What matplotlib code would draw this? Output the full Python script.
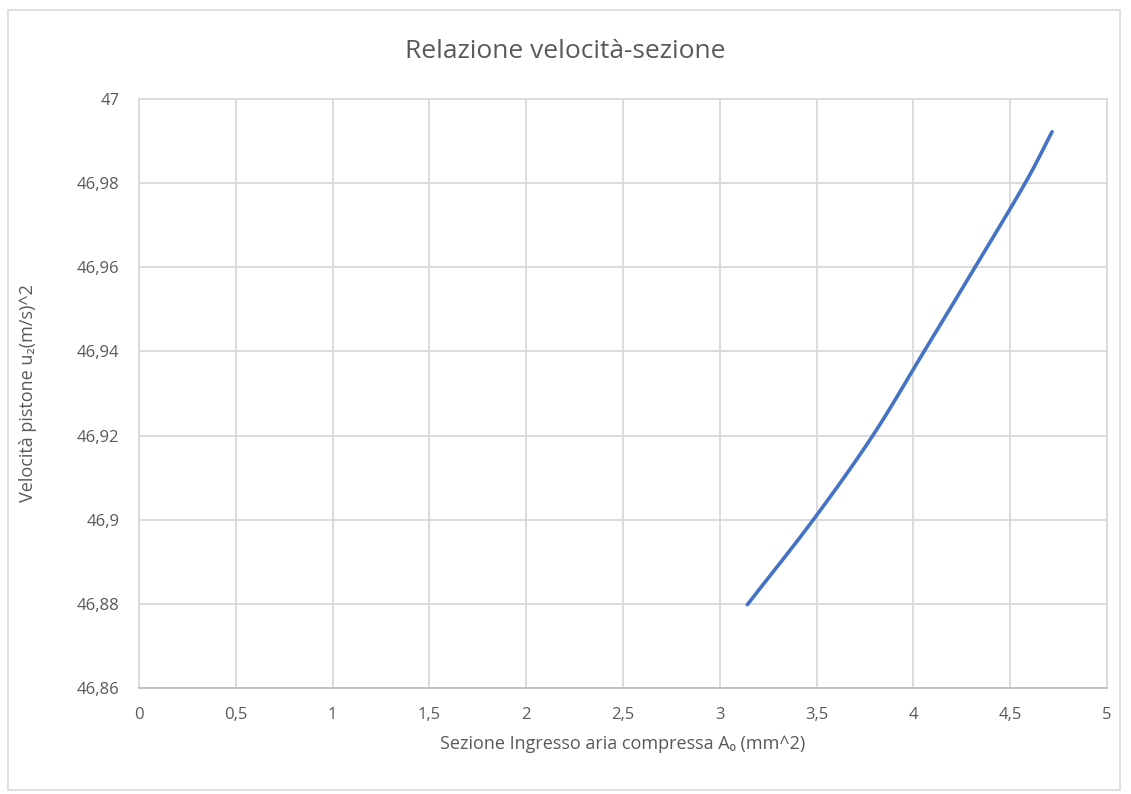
import matplotlib
matplotlib.use("Agg")
import numpy as np
import matplotlib.pyplot as plt
from matplotlib.ticker import FuncFormatter, MultipleLocator
from matplotlib.patches import Rectangle

# sezione A0 (mm^2) e velocita' u2
sezione = [3.142, 3.483, 3.79, 4.055, 4.318, 4.577, 4.716]
velocita = [46.8798, 46.90, 46.92, 46.94, 46.96, 46.98, 46.9922]

plt.rcParams['font.family'] = ['Open Sans', 'DejaVu Sans']
grigio = '#595959'


def liscia(x, y, n=20):
    # linea smussata tipo Excel (Catmull-Rom)
    x = np.asarray(x); y = np.asarray(y)
    px = np.concatenate([[2 * x[0] - x[1]], x, [2 * x[-1] - x[-2]]])
    py = np.concatenate([[2 * y[0] - y[1]], y, [2 * y[-1] - y[-2]]])
    xs, ys = [], []
    t = np.linspace(0, 1, n)
    for i in range(1, len(px) - 2):
        for p, out in ((px, xs), (py, ys)):
            p0, p1, p2, p3 = p[i - 1], p[i], p[i + 1], p[i + 2]
            out.extend(0.5 * (2 * p1 + (-p0 + p2) * t + (2 * p0 - 5 * p1 + 4 * p2 - p3) * t ** 2
                              + (-p0 + 3 * p1 - 3 * p2 + p3) * t ** 3))
    return xs, ys


fig = plt.figure(figsize=(11.31, 7.94), dpi=100)
ax = fig.add_axes([0.1229, 0.1335, 0.8559, 0.7418])

xs, ys = liscia(sezione, velocita)
ax.plot(xs, ys, color='#4472c4', lw=2.6, solid_capstyle='round')

ax.set_xlim(0, 5)
ax.set_ylim(46.86, 47)
ax.xaxis.set_major_locator(MultipleLocator(0.5))
ax.yaxis.set_major_locator(MultipleLocator(0.02))
virgola = FuncFormatter(lambda v, p: ('%g' % round(v, 4)).replace('.', ','))
ax.xaxis.set_major_formatter(virgola)
ax.yaxis.set_major_formatter(virgola)
ax.grid(True, color='#d9d9d9', lw=1.3)
ax.set_axisbelow(True)
for s in ax.spines.values():
    s.set_color('#d9d9d9')
    s.set_linewidth(1.3)
ax.spines['bottom'].set_color('#bfbfbf')
ax.tick_params(length=0, labelsize=12, colors=grigio, pad=14)

ax.set_xlabel('Sezione Ingresso aria compressa A\u2080 (mm^2)', fontsize=13, color=grigio, labelpad=8)
ax.set_ylabel('Velocità pistone u\u2082(m/s)^2', fontsize=13, color=grigio)
ax.yaxis.set_label_coords(-0.105, 0.5)
fig.text(0.5, 0.935, 'Relazione velocità-sezione', ha='center', va='center', fontsize=19, color=grigio)

# bordo dell'area del grafico
fig.patches.append(Rectangle((8 / 1131, 4 / 794), 1112 / 1131, 780 / 794, transform=fig.transFigure,
                             fill=False, edgecolor='#d9d9d9', lw=1.2))

fig.savefig('out.png', dpi=100)
